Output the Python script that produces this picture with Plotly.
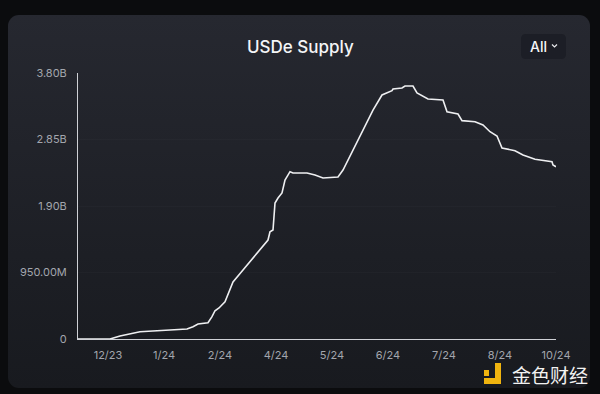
import plotly.graph_objects as go

# ---- data ----
x_idx = [0, 32, 42, 62, 92, 109, 115, 120, 130, 134, 137, 141, 147, 152, 155, 165, 179, 190, 192, 195,
         197, 200, 204, 207, 212, 215, 229, 237, 245, 260, 265, 270, 275, 285, 295, 304, 314, 315, 324, 327,
         335, 339, 350, 365, 369, 380, 384, 397, 405, 412, 419, 424, 437, 445, 457, 474, 475, 478]
supply_m = [0, 0, 43, 104, 129, 143, 176, 214, 233, 319, 404, 443, 533, 700, 814, 986, 1229, 1414, 1533, 1557,
            1943, 2014, 2086, 2271, 2390, 2371, 2371, 2343, 2300, 2314, 2414, 2557, 2700, 2986, 3271, 3486, 3547, 3571, 3586, 3614,
            3614, 3514, 3429, 3414, 3247, 3214, 3119, 3104, 3057, 2961, 2900, 2729, 2690, 2629, 2567, 2533, 2486, 2461]
supply = [v * 1e6 for v in supply_m]

x_tick_vals = [30, 86, 142, 198, 254, 310, 366, 422, 478]
x_tick_text = ["12/23", "1/24", "2/24", "4/24", "5/24", "6/24", "7/24", "8/24", "10/24"]
y_tick_vals = [0, 0.95e9, 1.9e9, 2.85e9, 3.8e9]
y_tick_text = ["0", "950.00M", "1.90B", "2.85B", "3.80B"]

W, H = 600, 394
L, R, T, B = 78, 44, 73, 55
PW, PH = W - L - R, H - T - B


def px(x):
    return (x - L) / PW


def py(y):
    return (H - B - y) / PH


fig = go.Figure()
fig.add_trace(go.Scatter(x=x_idx, y=supply, mode="lines",
                         line=dict(color="#eeeff1", width=1.6), hoverinfo="skip"))

svg = ("data:image/svg+xml;utf8,"
       "<svg xmlns='http://www.w3.org/2000/svg' width='582' height='373' viewBox='0 0 582 373'>"
       "<defs><linearGradient id='g' x1='0' y1='0' x2='0' y2='1'>"
       "<stop offset='0' stop-color='%23262830'/><stop offset='1' stop-color='%23181a1f'/>"
       "</linearGradient></defs>"
       "<rect x='0' y='0' width='582' height='373' rx='11' ry='11' fill='url(%23g)'/></svg>")
fig.add_layout_image(dict(source=svg, xref="paper", yref="paper",
                          x=px(8), y=py(15), sizex=px(590) - px(8), sizey=py(15) - py(388),
                          xanchor="left", yanchor="top", sizing="stretch", layer="below"))

shapes = []
# dropdown button
bx0, bx1, by0, by1, r = 521, 566, 34, 59, 5
path = (f"M {px(bx0 + r)},{py(by0)} L {px(bx1 - r)},{py(by0)} Q {px(bx1)},{py(by0)} {px(bx1)},{py(by0 + r)} "
        f"L {px(bx1)},{py(by1 - r)} Q {px(bx1)},{py(by1)} {px(bx1 - r)},{py(by1)} "
        f"L {px(bx0 + r)},{py(by1)} Q {px(bx0)},{py(by1)} {px(bx0)},{py(by1 - r)} "
        f"L {px(bx0)},{py(by0 + r)} Q {px(bx0)},{py(by0)} {px(bx0 + r)},{py(by0)} Z")
shapes.append(dict(type="path", xref="paper", yref="paper", path=path,
                   fillcolor="#1c1e26", line=dict(width=0), layer="below"))
# chevron
shapes.append(dict(type="path", xref="paper", yref="paper",
                   path=f"M {px(552)},{py(44.5)} L {px(554.5)},{py(47)} L {px(557)},{py(44.5)}",
                   line=dict(color="#e8e9ec", width=1.2)))
# logo (yellow)
yellow = "#f0b40f"
for (x0, y0, x1, y1) in [(484, 370, 489, 376), (495, 363, 501, 384), (484, 378, 501, 384)]:
    shapes.append(dict(type="rect", xref="paper", yref="paper",
                       x0=px(x0), x1=px(x1), y0=py(y1), y1=py(y0),
                       fillcolor=yellow, line=dict(width=0)))

annotations = [
    dict(text="USDe Supply", x=px(300), y=py(47), xref="paper", yref="paper", showarrow=False,
         font=dict(family="Inter", size=17, color="#f4f5f7", weight=500), xanchor="center", yanchor="middle"),
    dict(text="All", x=px(538), y=py(46.5), xref="paper", yref="paper", showarrow=False,
         font=dict(family="Inter", size=14, color="#f4f5f7", weight=500), xanchor="center", yanchor="middle"),
    dict(text="金色财经", x=px(550), y=py(374), xref="paper", yref="paper", showarrow=False,
         font=dict(family="Noto Sans CJK SC", size=19, color="#f2f2f2"), xanchor="center", yanchor="middle"),
]

fig.update_layout(
    width=W, height=H, margin=dict(l=L, r=R, t=T, b=B),
    paper_bgcolor="#0b0c0e", plot_bgcolor="rgba(0,0,0,0)",
    showlegend=False, shapes=shapes, annotations=annotations,
    xaxis=dict(range=[0, 478], tickmode="array", tickvals=x_tick_vals, ticktext=x_tick_text,
               showgrid=False, zeroline=False, showline=True, linecolor="#cfd1d6", linewidth=1,
               ticks="outside", ticklen=6, tickcolor="rgba(0,0,0,0)",
               tickfont=dict(family="Inter", size=11, color="#a3a6ad")),
    yaxis=dict(range=[0, 3.8e9], tickmode="array", tickvals=y_tick_vals, ticktext=y_tick_text,
               showgrid=True, gridcolor="rgba(255,255,255,0.02)", zeroline=False,
               showline=True, linecolor="#cfd1d6", linewidth=1,
               ticks="outside", ticklen=8, tickcolor="rgba(0,0,0,0)",
               tickfont=dict(family="Inter", size=11, color="#a3a6ad")),
)

fig.write_html("out.html")
